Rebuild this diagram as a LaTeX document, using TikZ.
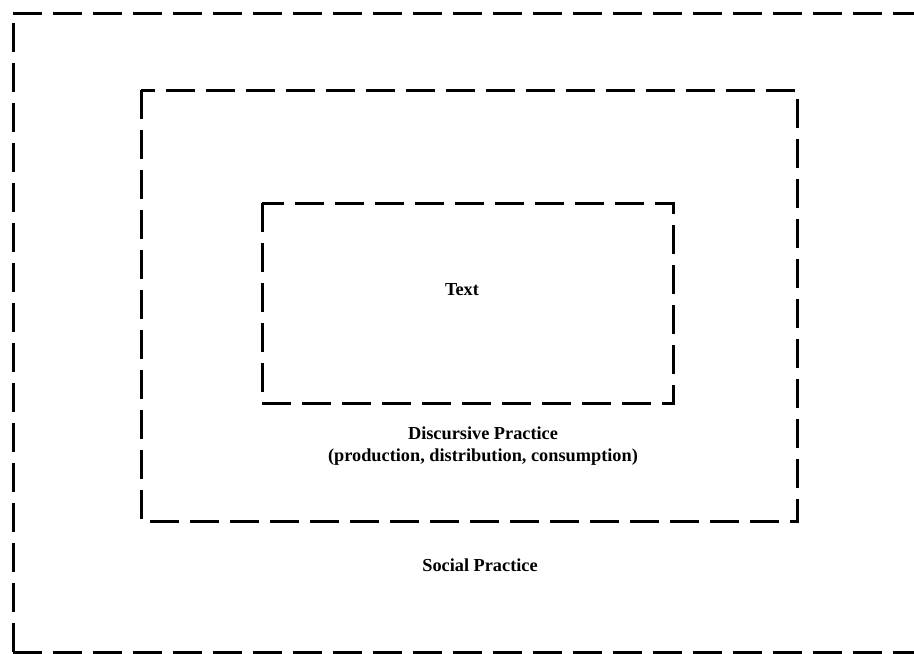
\documentclass[tikz,border=0pt]{standalone}
\usepackage{fontspec}
\setmainfont{Liberation Serif}
\begin{document}
\begin{tikzpicture}[x=1pt,y=-1pt,
  frame/.style={line width=3pt, dash pattern=on 29pt off 11pt},
  lbl/.style={font=\fontsize{18.3}{21.5}\selectfont\bfseries, align=center, inner sep=0pt}]
  \useasboundingbox (0,0) rectangle (914,654);
  \begin{scope}
    \clip (0,0) rectangle (914,654);
    % social practice frame (runs past the right edge)
    \draw[frame] (13,13) -- (940,13);
    \draw[frame] (13,652) -- (13,13);
    \draw[frame] (13,652) -- (940,652);
  \end{scope}
  % discursive practice frame
  \draw[frame] (141,90) rectangle (797,521);
  % text frame
  \draw[frame] (262,203) rectangle (673,403);
  \node[lbl] (text) at (462,290) {Text};
  \node[lbl] (disc) at (483,446) {Discursive Practice\\(production, distribution, consumption)};
  \node[lbl] (soc) at (480,565) {Social Practice};
\end{tikzpicture}
\end{document}
